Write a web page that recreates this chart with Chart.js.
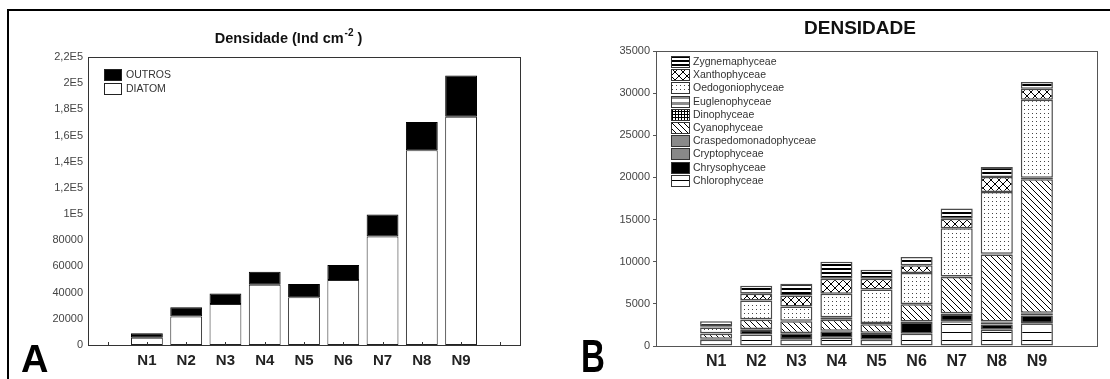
<!DOCTYPE html>
<html>
<head>
<meta charset="utf-8">
<script src="https://cdn.jsdelivr.net/npm/chart.js@4/dist/chart.umd.min.js"></script>
<style>
  body { margin: 0; background: #fff; }
  #wrap { position: relative; width: 1110px; height: 379px; overflow: hidden; background: #fff; font-family: "Liberation Sans", Arial, sans-serif; }
  canvas { position: absolute; top: 0; }
  #chartA { left: 0; }
  #chartB { left: 555px; }
  .line-top { position: absolute; left: 7px; top: 9px; width: 1103px; height: 2px; background: #000; }
  .line-left { position: absolute; left: 7px; top: 9px; width: 2px; height: 370px; background: #000; }
  .panel { position: absolute; font-weight: bold; color: #000; line-height: 1; font-family: "Liberation Sans", Arial, sans-serif; }
  #lblA { left: 21px; top: 340px; font-size: 38px; }
  #lblB { left: 581px; top: 333px; font-size: 46px; transform: scaleX(0.72); transform-origin: left top; }
</style>
</head>
<body>
<div id="wrap">
  <canvas id="chartA" width="555" height="379"></canvas>
  <canvas id="chartB" width="555" height="379"></canvas>
  <div class="line-top"></div>
  <div class="line-left"></div>
  <div class="panel" id="lblA">A</div>
  <div class="panel" id="lblB">B</div>
</div>
<script>
// categories (empty slot at both ends, like the original axis)
const categories = ['', 'N1', 'N2', 'N3', 'N4', 'N5', 'N6', 'N7', 'N8', 'N9', ''];

// Panel A - Densidade (Ind cm-2)
const diatomA = [null, 5500, 21800, 31400, 46100, 36500, 49700, 82900, 148800, 174400, null];
const outrosA = [null, 3500, 7100, 7900, 9900, 10100, 11400, 16700, 21500, 31400, null];
const yTicksA = ['0', '20000', '40000', '60000', '80000', '1E5', '1,2E5', '1,4E5', '1,6E5', '1,8E5', '2E5', '2,2E5'];

// Panel B - DENSIDADE by class
const chloro  = [null, 750, 1350, 800, 970, 750, 1460, 2950, 1920, 2700, null];
const chryso  = [null, 100, 570, 700, 790, 780, 1390, 850, 630, 920, null];
const crypto  = [null, 0, 100, 50, 50, 50, 50, 50, 200, 200, null];
const crasped = [null, 0, 0, 0, 0, 0, 0, 50, 150, 120, null];
const cyano   = [null, 600, 1090, 1390, 1290, 990, 2040, 4300, 7970, 15830, null];
const dino    = [null, 0, 0, 0, 0, 0, 0, 0, 0, 0, null];
const eugleno = [null, 50, 50, 50, 320, 150, 50, 50, 80, 200, null];
const oedo    = [null, 700, 2240, 1690, 2770, 3970, 3670, 5720, 7310, 9250, null];
const xantho  = [null, 150, 790, 1310, 1780, 1300, 910, 1120, 1780, 1310, null];
const zygnema = [null, 600, 950, 1390, 2020, 1060, 990, 1210, 1190, 780, null];
const yTicksB = ['0', '5000', '10000', '15000', '20000', '25000', '30000', '35000'];

Chart.defaults.font.family = '"Liberation Sans", Arial, sans-serif';
Chart.defaults.animation = false;

/* ---------------- patterns ---------------- */
const ctxB = document.getElementById('chartB').getContext('2d');

function makePattern(w, h, draw) {
  const c = document.createElement('canvas');
  c.width = w; c.height = h;
  const g = c.getContext('2d');
  g.fillStyle = '#fff';
  g.fillRect(0, 0, w, h);
  g.fillStyle = '#000';
  draw(g);
  return ctxB.createPattern(c, 'repeat');
}

const patHLines = makePattern(8, 8, g => g.fillRect(0, 4, 8, 1));
const patDiag = makePattern(6, 6, g => { for (let i = 0; i < 6; i++) g.fillRect(i, i, 1, 1); });
const patGrid = makePattern(3, 3, g => { g.fillRect(0, 0, 3, 1); g.fillRect(0, 0, 1, 3); });
const patEugl = makePattern(6, 6, g => { g.fillStyle = '#8c8c8c'; g.fillRect(0, 0, 6, 3); });
const patDots = makePattern(4, 4, g => { g.fillStyle = '#444'; g.fillRect(1, 1, 1, 1); });
const patCross = makePattern(8, 8, g => { for (let i = 0; i < 8; i++) { g.fillRect(i, i, 1, 1); g.fillRect(7 - i, i, 1, 1); } });
const patZyg = makePattern(4, 4, g => g.fillRect(0, 0, 4, 2));

/* ---------------- helper plugins ---------------- */
const frameA = {
  id: 'frameA',
  afterDraw(chart) {
    const { ctx, chartArea: a, scales } = chart;
    ctx.save();
    ctx.strokeStyle = '#333';
    ctx.lineWidth = 1;
    ctx.strokeRect(a.left + 0.5, a.top + 0.5, a.right - a.left, a.bottom - a.top);
    // small inward ticks at each category
    ctx.beginPath();
    categories.forEach((c, i) => {
      const x = Math.round(scales.x.getPixelForValue(i)) + 0.5;
      ctx.moveTo(x, a.bottom);
      ctx.lineTo(x, a.bottom - 3);
    });
    ctx.stroke();
    // title with superscript
    ctx.fillStyle = '#111';
    ctx.textBaseline = 'alphabetic';
    ctx.font = 'bold 14.5px "Liberation Sans", Arial';
    const t1 = 'Densidade (Ind cm', t2 = '-2', t3 = ' )';
    const w1 = ctx.measureText(t1).width, w3 = ctx.measureText(t3).width;
    ctx.font = 'bold 10px "Liberation Sans", Arial';
    const w2 = ctx.measureText(t2).width;
    let x = 288 - (w1 + w2 + w3) / 2;
    ctx.font = 'bold 14.5px "Liberation Sans", Arial';
    ctx.fillText(t1, x, 43);
    ctx.font = 'bold 10px "Liberation Sans", Arial';
    ctx.fillText(t2, x + w1 + 1, 36);
    ctx.font = 'bold 14.5px "Liberation Sans", Arial';
    ctx.fillText(t3, x + w1 + w2 + 1, 43);
    // legend
    ctx.font = '10.5px "Liberation Sans", Arial';
    ctx.textBaseline = 'middle';
    const items = [chart.data.datasets[1], chart.data.datasets[0]];
    items.forEach((ds, i) => {
      const y = 69 + i * 14;
      ctx.fillStyle = ds.backgroundColor;
      ctx.fillRect(104, y, 17, 11);
      ctx.strokeStyle = '#222';
      ctx.strokeRect(104.5, y + 0.5, 17, 11);
      ctx.fillStyle = '#333';
      ctx.fillText(ds.label, 126, y + 6);
    });
    ctx.restore();
  }
};

const frameB = {
  id: 'frameB',
  afterDraw(chart) {
    const { ctx, chartArea: a } = chart;
    ctx.save();
    ctx.strokeStyle = '#555';
    ctx.lineWidth = 1;
    ctx.strokeRect(a.left + 0.5, a.top + 0.5, a.right - a.left, a.bottom - a.top);
    ctx.fillStyle = '#111';
    ctx.font = 'bold 19px "Liberation Sans", Arial';
    ctx.textAlign = 'center';
    ctx.textBaseline = 'middle';
    ctx.fillText('DENSIDADE', 305, 29);
    // legend, top entry = last dataset
    ctx.textAlign = 'left';
    ctx.font = '10.5px "Liberation Sans", Arial';
    const ds = chart.data.datasets;
    for (let k = 0; k < ds.length; k++) {
      const d = ds[ds.length - 1 - k];
      const y = Math.round(56 + k * 13.2);
      ctx.fillStyle = d.backgroundColor;
      ctx.fillRect(116, y, 18, 11);
      ctx.strokeStyle = '#333';
      ctx.strokeRect(116.5, y + 0.5, 18, 11);
      ctx.fillStyle = '#333';
      ctx.fillText(d.label, 138, y + 6);
    }
    ctx.restore();
  }
};

/* ---------------- Chart A ---------------- */
new Chart(document.getElementById('chartA').getContext('2d'), {
  type: 'bar',
  data: {
    labels: categories,
    datasets: [
      { label: 'DIATOM', data: diatomA, backgroundColor: '#fff', borderColor: '#222', borderWidth: 1, borderSkipped: false },
      { label: 'OUTROS', data: outrosA, backgroundColor: '#000', borderColor: '#000', borderWidth: 1, borderSkipped: false }
    ]
  },
  options: {
    responsive: false,
    layout: { padding: { top: 57, right: 35, bottom: 9, left: 0 } },
    datasets: { bar: { barPercentage: 0.81, categoryPercentage: 1 } },
    plugins: { legend: { display: false }, tooltip: { enabled: false } },
    scales: {
      x: {
        stacked: true,
        grid: { display: false, drawTicks: false },
        border: { display: false },
        ticks: { color: '#222', font: { size: 15, weight: 'bold' }, padding: 7, maxRotation: 0, autoSkip: false },
        afterFit: s => { s.height = 25; }
      },
      y: {
        stacked: true,
        min: 0, max: 220000,
        grid: { display: false, drawTicks: false },
        border: { display: false },
        ticks: { stepSize: 20000, color: '#444', font: { size: 11 }, padding: 5, callback: (v, i) => yTicksA[i] },
        afterFit: s => { s.width = 88; }
      }
    }
  },
  plugins: [frameA]
});

/* ---------------- Chart B ---------------- */
function ds(label, data, bg) {
  return { label: label, data: data, backgroundColor: bg, borderColor: '#4a4a4a', borderWidth: 1.5, borderSkipped: false };
}

new Chart(ctxB, {
  type: 'bar',
  data: {
    labels: categories,
    datasets: [
      ds('Chlorophyceae', chloro, patHLines),
      ds('Chrysophyceae', chryso, '#000'),
      ds('Cryptophyceae', crypto, '#888'),
      ds('Craspedomonadophyceae', crasped, '#8a8a8a'),
      ds('Cyanophyceae', cyano, patDiag),
      ds('Dinophyceae', dino, patGrid),
      ds('Euglenophyceae', eugleno, patEugl),
      ds('Oedogoniophyceae', oedo, patDots),
      ds('Xanthophyceae', xantho, patCross),
      ds('Zygnemaphyceae', zygnema, patZyg)
    ]
  },
  options: {
    responsive: false,
    layout: { padding: { top: 51, right: 13, bottom: 8, left: 0 } },
    datasets: { bar: { barPercentage: 0.8, categoryPercentage: 1 } },
    plugins: { legend: { display: false }, tooltip: { enabled: false } },
    scales: {
      x: {
        stacked: true,
        grid: { display: false, drawTicks: false },
        border: { display: false },
        ticks: { color: '#222', font: { size: 16, weight: 'bold' }, padding: 6, maxRotation: 0, autoSkip: false },
        afterFit: s => { s.height = 25; }
      },
      y: {
        stacked: true,
        min: 0, max: 35000,
        grid: { drawOnChartArea: false, tickLength: 3, color: '#555' },
        border: { display: false },
        ticks: { stepSize: 5000, color: '#444', font: { size: 11 }, padding: 3, callback: (v, i) => yTicksB[i] },
        afterFit: s => { s.width = 101; }
      }
    }
  },
  plugins: [frameB]
});
</script>
</body>
</html>
